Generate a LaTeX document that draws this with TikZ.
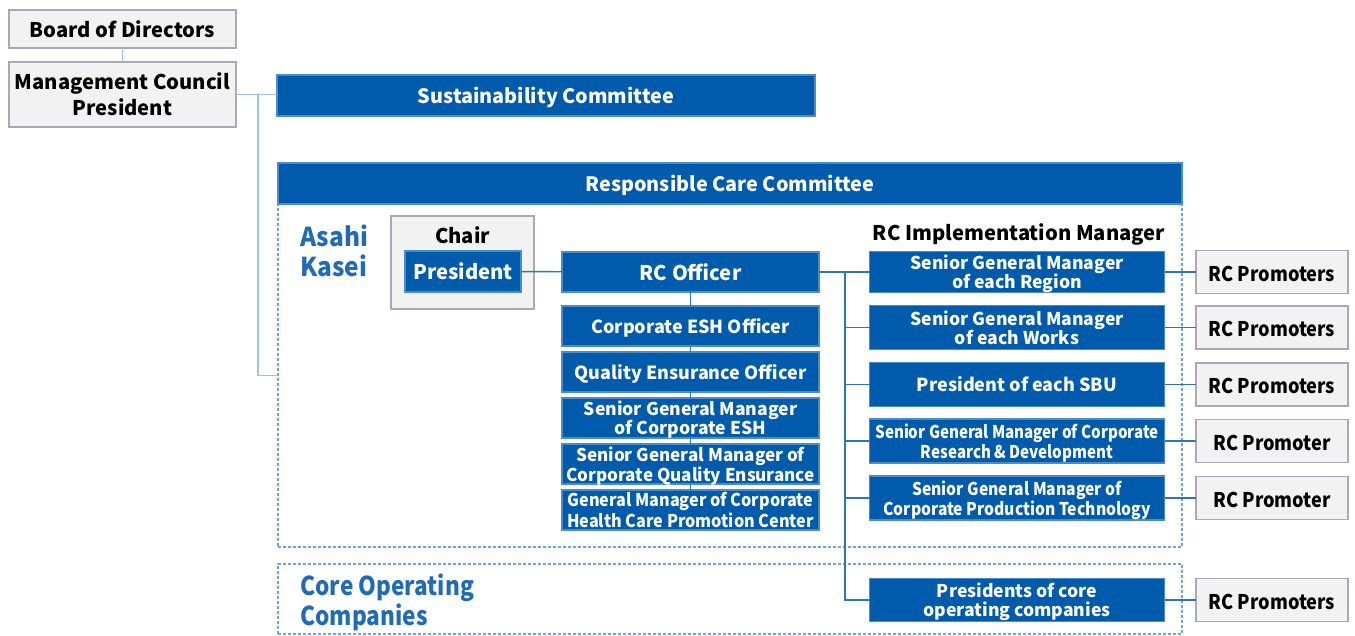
\documentclass[tikz,border=0pt]{standalone}
\usepackage{fontspec}
\setmainfont{Noto Sans CJK JP}
\definecolor{rcblue}{HTML}{005BAC}
\definecolor{rcline}{HTML}{2E75B6}
\definecolor{rclight}{HTML}{9DC3E6}
\definecolor{rcdash}{HTML}{6FA3D8}
\definecolor{rcgrayfill}{HTML}{F2F2F2}
\definecolor{rcgrayedge}{HTML}{A8A8BA}
\definecolor{rctext}{HTML}{1F6BB8}
\newcommand\squeeze[2]{\scalebox{#1}[1]{\begin{tabular}[b]{@{}c@{}}#2\end{tabular}}}
\newcommand\squeezel[2]{\scalebox{#1}[1]{\begin{tabular}[b]{@{}l@{}}#2\end{tabular}}}

\begin{document}
\begin{tikzpicture}[x=0.5pt,y=-0.5pt,
  sized/.style 2 args={minimum width=#1*0.5pt,minimum height=#2*0.5pt,inner sep=0pt,outer sep=0pt,align=center,text depth=0pt},
  bluebox/.style={fill=rcblue,draw=rcblue!70!white,line width=0.6pt,text=white},
  graybox/.style={fill=rcgrayfill,draw=rcgrayedge,line width=0.8pt,text=black},
  area/.style={draw=rcdash,line width=0.7pt,dash pattern=on 1.5pt off 1pt},
  link/.style={draw=rcline,line width=0.7pt},
  lightlink/.style={draw=rclight,line width=0.9pt},
  bigtxt/.style={font=\bfseries\fontsize{10.1}{13}\selectfont},
  headtxt/.style={font=\bfseries\fontsize{9.9}{11}\selectfont},
  midtxt/.style={font=\bfseries\fontsize{9}{11}\selectfont},
  smalltxt/.style={font=\bfseries\fontsize{8.8}{9.6}\selectfont},
  areatxt/.style={font=\bfseries\fontsize{13}{15}\selectfont,text=rctext,align=left,inner sep=0pt}]
  \useasboundingbox (0,0) rectangle (1355,636);

  % dashed areas
  \node (akarea) [sized={904}{343},area] at (730,375.5) {};
  \node (corearea) [sized={904}{70},area] at (730,599) {};
  \node (aklabel) [areatxt,anchor=north west] at (300,224) {\squeezel{0.94}{Asahi\\Kasei}};
  \node (corelabel) [areatxt,anchor=north west] at (300,573) {\squeezel{0.87}{Core Operating\\Companies}};

  % top of the organisation
  \node (board) [sized={227}{38},graybox,bigtxt] at (122.5,29) {Board of Directors};
  \node (mgmt) [sized={227}{65},graybox,bigtxt] at (122.5,94.5) {Management Council\\President};
  \node (sust) [sized={538}{41},bluebox,headtxt] at (546,95.5) {Sustainability Committee};
  \node (rcc) [sized={904}{41},bluebox,headtxt] at (730,183.5) {Responsible Care Committee};
  \coordinate (split) at (258,94.5);
  \draw[lightlink] (board) -- (mgmt);
  \draw[lightlink] (mgmt.east) -- (mgmt.east -| sust.west);
  \draw[lightlink] (split) |- (akarea.west);

  % chair and officers
  \node (chair) [sized={143}{93},graybox] at (462.5,262.5) {};
  \node (chairtxt) [bigtxt] at (462.5,235) {Chair};
  \node (pres) [sized={116}{41},bluebox,bigtxt] at (463,271.5) {President};
  \node (rcoff) [sized={257}{40},bluebox,bigtxt] at (690.5,272) {RC Officer};
  \node (s1) [sized={257}{40},bluebox,midtxt] at (690.5,326) {Corporate ESH Officer};
  \node (s2) [sized={257}{40},bluebox,midtxt] at (690.5,372) {Quality Ensurance Officer};
  \node (s3) [sized={257}{40},bluebox,smalltxt] at (690.5,418) {Senior General Manager\\of Corporate ESH};
  \node (s4) [sized={257}{40},bluebox,smalltxt] at (690.5,464) {\squeeze{0.97}{Senior General Manager of\\Corporate Quality Ensurance}};
  \node (s5) [sized={257}{40},bluebox,smalltxt] at (690.5,510) {\squeeze{0.92}{General Manager of Corporate\\Health Care Promotion Center}};
  \draw[link] (pres) -- (rcoff);
  \draw[link] (rcoff) -- (s1);
  \foreach \a/\b in {1/2,2/3,3/4,4/5}{\draw[link] (s\a) -- (s\b);}

  % implementation managers and promoters
  \node (impl) [bigtxt] at (1019,235) {RC Implementation Manager};
  \node (r1) [sized={295}{41},bluebox,smalltxt] at (1017,272) {Senior General Manager\\of each Region};
  \node (r2) [sized={295}{44},bluebox,smalltxt] at (1017,327.5) {Senior General Manager\\of each Works};
  \node (r3) [sized={295}{44},bluebox,midtxt] at (1017,384.5) {President of each SBU};
  \node (r4) [sized={295}{44},bluebox,smalltxt] at (1017,441) {\squeeze{0.86}{Senior General Manager of Corporate\\Research \& Development}};
  \node (r5) [sized={295}{44},bluebox,smalltxt] at (1017,498) {\squeeze{0.89}{Senior General Manager of\\Corporate Production Technology}};
  \node (r6) [sized={295}{43},bluebox,smalltxt] at (1017,600) {Presidents of core\\operating companies};
  \coordinate (bus) at (845,272);
  \draw[link] (rcoff) -- (r1);
  \draw[link] (bus) |- (r6);
  \foreach \i in {2,...,5}{\draw[link] (bus |- r\i.west) -- (r\i);}
  \foreach \i/\t in {1/Promoters,2/Promoters,3/Promoters,4/Promoter,5/Promoter,6/Promoters}{
    \node (p\i) [sized={152}{43},graybox,bigtxt] at (r\i -| 1272,0) {\squeeze{0.9}{RC \t}};
    \draw[link] (r\i) -- (p\i);
  }
\end{tikzpicture}
\end{document}
